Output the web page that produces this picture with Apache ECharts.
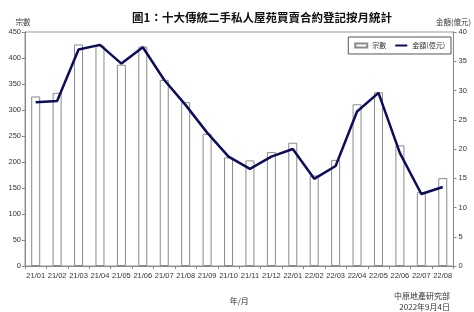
<!DOCTYPE html>
<html><head><meta charset="utf-8">
<script src="https://cdn.jsdelivr.net/npm/echarts@6/dist/echarts.min.js"></script>
<style>html,body{margin:0;padding:0;background:#fff}#c{width:474px;height:312px}</style>
</head><body><div id="c"></div>
<script>
const categories = ['21/01','21/02','21/03','21/04','21/05','21/06','21/07','21/08','21/09','21/10','21/11','21/12','22/01','22/02','22/03','22/04','22/05','22/06','22/07','22/08'];
const countValues = [326,333,426,424,387,422,358,315,254,209,203,219,237,174,204,311,334,232,142,169];
const amountValues = [28.0,28.2,37.0,37.8,34.6,37.4,31.8,27.5,22.8,18.7,16.6,18.7,20.0,14.9,17.1,26.4,29.6,19.3,12.3,13.5];
const leftTicks = {min:0, max:450, interval:50};
const rightTicks = {min:0, max:40, interval:5};

const FONT = '"Liberation Sans","Noto Sans CJK TC",sans-serif';
const CJK = '"Noto Sans CJK TC","Liberation Sans",sans-serif';
const chart = echarts.init(document.getElementById('c'), null, {renderer:'canvas'});
chart.setOption({
  animation:false,
  backgroundColor:'#fff',
  title:{text:'圖1：十大傳統二手私人屋苑買賣合約登記按月統計', left:257, textAlign:'center', top:7,
    textStyle:{fontFamily:CJK, fontSize:11.5, fontWeight:'bold', color:'#111'}},
  grid:{left:25, right:16, top:32, bottom:46, show:true, borderColor:'#999', borderWidth:1, backgroundColor:'transparent'},
  legend:{right:23, top:37, itemGap:8, padding:[5,6,5,6], borderColor:'#555', borderWidth:1,
    itemWidth:12, itemHeight:4, textStyle:{fontFamily:CJK, fontSize:7, color:'#333'},
    data:[{name:'宗數', icon:'rect'},{name:'金額(億元)', itemStyle:{opacity:0}}]},
  xAxis:{type:'category', data:categories, name:'年/月', nameLocation:'middle', nameGap:31,
    nameTextStyle:{fontFamily:CJK, fontSize:8, color:'#333'},
    axisLine:{lineStyle:{color:'#888'}}, axisTick:{show:true, length:3, lineStyle:{color:'#888'}},
    axisLabel:{fontFamily:FONT, fontSize:7.5, color:'#333', margin:6, interval:0}},
  yAxis:[
    {type:'value', min:leftTicks.min, max:leftTicks.max, interval:leftTicks.interval, name:'宗數',
     nameLocation:'end', nameGap:6, nameTextStyle:{fontFamily:CJK, fontSize:7.5, color:'#333', align:'center', padding:[0,0,0,-4]},
     splitLine:{show:false}, axisLine:{show:true, lineStyle:{color:'#888'}}, axisTick:{show:true, length:3, lineStyle:{color:'#888'}},
     axisLabel:{fontFamily:FONT, fontSize:7.5, color:'#333', margin:4}},
    {type:'value', min:rightTicks.min, max:rightTicks.max, interval:rightTicks.interval, name:'金額(億元)',
     nameLocation:'end', nameGap:6, nameTextStyle:{fontFamily:CJK, fontSize:7.5, color:'#333', align:'center', padding:[0,0,0,0]},
     splitLine:{show:false}, axisLine:{show:true, lineStyle:{color:'#888'}}, axisTick:{show:true, length:3, lineStyle:{color:'#888'}},
     axisLabel:{fontFamily:FONT, fontSize:7.5, color:'#333', margin:5}}
  ],
  series:[
    {name:'宗數', type:'bar', data:countValues, barWidth:9, yAxisIndex:0,
     itemStyle:{color:'#fff', borderColor:'#8a8a8a', borderWidth:1}},
    {name:'金額(億元)', type:'line', data:amountValues, yAxisIndex:1, symbol:'none',
     lineStyle:{color:'#0c0c5c', width:2.5}, itemStyle:{color:'#0c0c5c'}}
  ],
  graphic:[
    {type:'text', right:24, top:292, style:{text:'中原地產研究部', fontFamily:CJK, fontSize:8, fill:'#333', textAlign:'right'}},
    {type:'text', right:24, top:303, style:{text:'2022年9月4日', fontFamily:CJK, fontSize:8, fill:'#333', textAlign:'right'}}
  ]
});
</script></body></html>
